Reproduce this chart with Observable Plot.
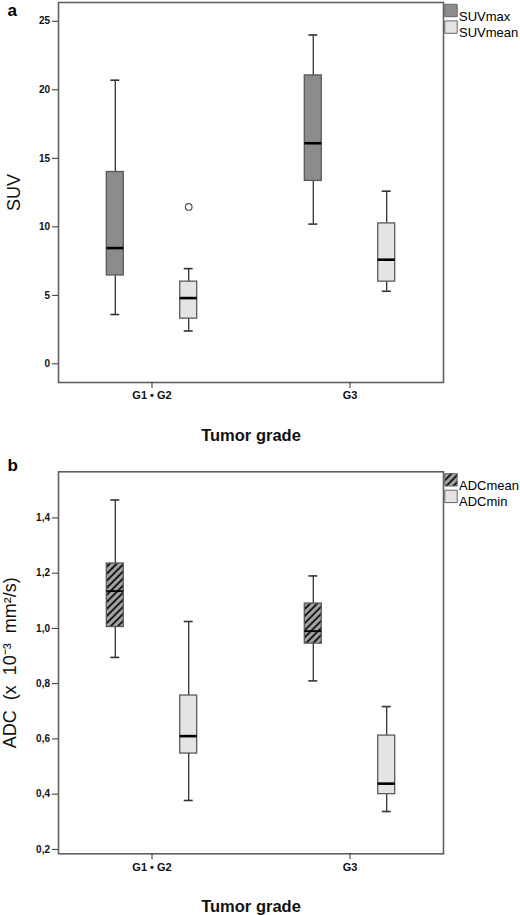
<!DOCTYPE html>
<html>
<head>
<meta charset="utf-8">
<script src="https://cdn.jsdelivr.net/npm/d3@7"></script>
<script src="https://cdn.jsdelivr.net/npm/@observablehq/plot@0.6"></script>
<style>
  html, body { margin: 0; padding: 0; background: #fff; }
  #chart svg { display: block; }
</style>
</head>
<body>
<div id="chart"></div>
<script>
// ---------- Data ----------
const grades = ["G1 • G2", "G3"];

// Panel a: SUV
const suvSeries = ["SUVmax", "SUVmean"];
const suvmaxLow  = [3.6, 10.2];
const suvmaxQ1   = [6.45, 13.35];
const suvmaxMed  = [8.45, 16.1];
const suvmaxQ3   = [14.0, 21.05];
const suvmaxHigh = [20.7, 24.0];
const suvmeanLow  = [2.4, 5.3];
const suvmeanQ1   = [3.3, 6.0];
const suvmeanMed  = [4.8, 7.6];
const suvmeanQ3   = [6.0, 10.25];
const suvmeanHigh = [6.95, 12.6];
const suvOutlierSeries = ["SUVmean"];
const suvOutlierGrade  = ["G1 • G2"];
const suvOutlierValue  = [11.45];
const suvTicks = [0, 5, 10, 15, 20, 25];

// Panel b: ADC
const adcSeries = ["ADCmean", "ADCmin"];
const adcmeanLow  = [0.895, 0.81];
const adcmeanQ1   = [1.005, 0.945];
const adcmeanMed  = [1.135, 0.99];
const adcmeanQ3   = [1.235, 1.09];
const adcmeanHigh = [1.465, 1.19];
const adcminLow  = [0.377, 0.337];
const adcminQ1   = [0.547, 0.40];
const adcminMed  = [0.61, 0.438];
const adcminQ3   = [0.757, 0.612];
const adcminHigh = [1.025, 0.717];
const adcTicks = [0.2, 0.4, 0.6, 0.8, 1.0, 1.2, 1.4];

// ---------- Build tables ----------
function rowsFor(seriesNames, stats) {
  const rows = [];
  seriesNames.forEach((s, si) => {
    const [low, q1, med, q3, high] = stats[si];
    grades.forEach((g, gi) => rows.push({grade: g, series: s, low: low[gi], q1: q1[gi], med: med[gi], q3: q3[gi], high: high[gi]}));
  });
  return rows;
}
const suvRows = rowsFor(suvSeries, [
  [suvmaxLow, suvmaxQ1, suvmaxMed, suvmaxQ3, suvmaxHigh],
  [suvmeanLow, suvmeanQ1, suvmeanMed, suvmeanQ3, suvmeanHigh]
]);
const suvOutliers = suvOutlierValue.map((v, i) => ({grade: suvOutlierGrade[i], series: suvOutlierSeries[i], value: v}));
const adcRows = rowsFor(adcSeries, [
  [adcmeanLow, adcmeanQ1, adcmeanMed, adcmeanQ3, adcmeanHigh],
  [adcminLow, adcminQ1, adcminMed, adcminQ3, adcminHigh]
]);

// ---------- Panel builder ----------
const WIDTH = 520, ML = 58, MR = 77;
const PAD_INNER = 0.065;
const bandwidth = (WIDTH - ML - MR) / (2 - PAD_INNER) * (1 - PAD_INNER);
const BOX_W = 18, CAP_W = 10;
const boxInset = (bandwidth - BOX_W) / 2;
const capInset = (bandwidth - CAP_W) / 2;
const offsets = [-36.7, 36.7];
const LABEL_FONT = "'Liberation Sans', Arial, sans-serif";

function panel(o) {
  const marks = [];
  o.series.forEach((s, i) => {
    const d = o.rows.filter(r => r.series === s);
    const dx = offsets[i];
    marks.push(Plot.ruleX(d, {x: "grade", y1: "low", y2: "q1", dx, stroke: "#333", strokeWidth: 1.3}));
    marks.push(Plot.ruleX(d, {x: "grade", y1: "q3", y2: "high", dx, stroke: "#333", strokeWidth: 1.3}));
    marks.push(Plot.tickY(d, {x: "grade", y: "low", dx, insetLeft: capInset, insetRight: capInset, stroke: "#333", strokeWidth: 1.6}));
    marks.push(Plot.tickY(d, {x: "grade", y: "high", dx, insetLeft: capInset, insetRight: capInset, stroke: "#333", strokeWidth: 1.6}));
    marks.push(Plot.barY(d, {x: "grade", y1: "q1", y2: "q3", dx, insetLeft: boxInset, insetRight: boxInset, fill: o.fills[i], stroke: "#5a5a5a", strokeWidth: 1.3}));
    marks.push(Plot.tickY(d, {x: "grade", y: "med", dx, insetLeft: boxInset, insetRight: boxInset, stroke: "#000", strokeWidth: o.medianWidth[i]}));
    if (o.outliers) {
      const od = o.outliers.filter(r => r.series === s);
      marks.push(Plot.dot(od, {x: "grade", y: "value", dx, r: 3.3, fill: "#fff", stroke: "#555", strokeWidth: 1.2}));
    }
    // legend
    marks.push(Plot.dot([s], {frameAnchor: "top-right", dx: 7.5, dy: 8 + 16.6 * i, symbol: "square", r: 7.0, fill: o.fills[i], stroke: "#666", strokeWidth: 1}));
    marks.push(Plot.text([s], {frameAnchor: "top-right", dx: 15.5, dy: 8.8 + 16.6 * i, text: d => d, textAnchor: "start", fontSize: 13, fontFamily: LABEL_FONT, fill: "#000"}));
  });
  marks.push(Plot.frame({stroke: "#606060", strokeWidth: 1.6}));
  marks.push(Plot.axisY(o.yTicks, {tickSize: 6, tickPadding: 2.5, tickFormat: o.tickFormat, fontWeight: "bold", fontSize: 10, label: null, stroke: "#333"}));
  marks.push(Plot.axisX({tickSize: 6, tickPadding: 3, fontWeight: "bold", fontSize: 11, label: null, stroke: "#333"}));
  marks.push(Plot.text([o.yLabel], {frameAnchor: "left", rotate: -90, textAnchor: "middle", dx: o.yLabelDx, text: d => d, fontSize: 18, fontFamily: LABEL_FONT, fill: "#111"}));
  marks.push(Plot.text(["Tumor grade"], {frameAnchor: "bottom", dy: 58, lineAnchor: "bottom", textAnchor: "middle", text: d => d, fontSize: 16.5, fontWeight: "bold", fontFamily: LABEL_FONT, fill: "#111"}));
  marks.push(Plot.text([o.letter], {frameAnchor: "top-left", dx: -51, dy: o.letterDy, lineAnchor: "bottom", textAnchor: "start", text: d => d, fontSize: 17, fontWeight: "bold", fontFamily: LABEL_FONT, fill: "#000"}));

  const svg = Plot.plot({
    width: WIDTH,
    height: o.height,
    marginLeft: ML,
    marginRight: MR,
    marginTop: o.marginTop,
    marginBottom: o.marginBottom,
    style: {fontFamily: "'Liberation Sans Narrow', 'Liberation Sans', Arial, sans-serif", background: "#fff", color: "#111", overflow: "visible"},
    x: {type: "band", domain: grades, paddingInner: PAD_INNER, paddingOuter: 0, label: null},
    y: {domain: o.yDomain, label: null},
    marks
  });
  // hatch pattern definition
  const defs = d3.select(svg).insert("defs", ":first-child");
  const pat = defs.append("pattern")
    .attr("id", "hatch")
    .attr("patternUnits", "userSpaceOnUse")
    .attr("width", 5).attr("height", 10)
    .attr("patternTransform", "rotate(45)");
  pat.append("rect").attr("width", 5).attr("height", 10).attr("fill", "#a3a3a3");
  pat.append("line").attr("x1", 1).attr("y1", 0).attr("x2", 1).attr("y2", 10).attr("stroke", "#1a1a1a").attr("stroke-width", 2.0);
  return svg;
}

const panelA = panel({
  rows: suvRows, outliers: suvOutliers, series: suvSeries,
  fills: ["#8c8c8c", "#e4e4e4"], medianWidth: [2.6, 2.6],
  yDomain: [-1.36, 26.37], yTicks: suvTicks, tickFormat: d => String(d),
  yLabel: "SUV", yLabelDx: -44.5, letter: "a", letterDy: 13.5,
  height: 447, marginTop: 2, marginBottom: 65
});
const panelB = panel({
  rows: adcRows, outliers: null, series: adcSeries,
  fills: ["url(#hatch)", "#e4e4e4"], medianWidth: [1.8, 2.6],
  yDomain: [0.184, 1.567], yTicks: adcTicks, tickFormat: d => d.toFixed(1).replace(".", ","),
  yLabel: "ADC  (x  10⁻³  mm²/s)", yLabelDx: -48, letter: "b", letterDy: -1.3,
  height: 468, marginTop: 24.3, marginBottom: 61.7
});
document.getElementById("chart").append(panelA, panelB);
</script>
</body>
</html>
